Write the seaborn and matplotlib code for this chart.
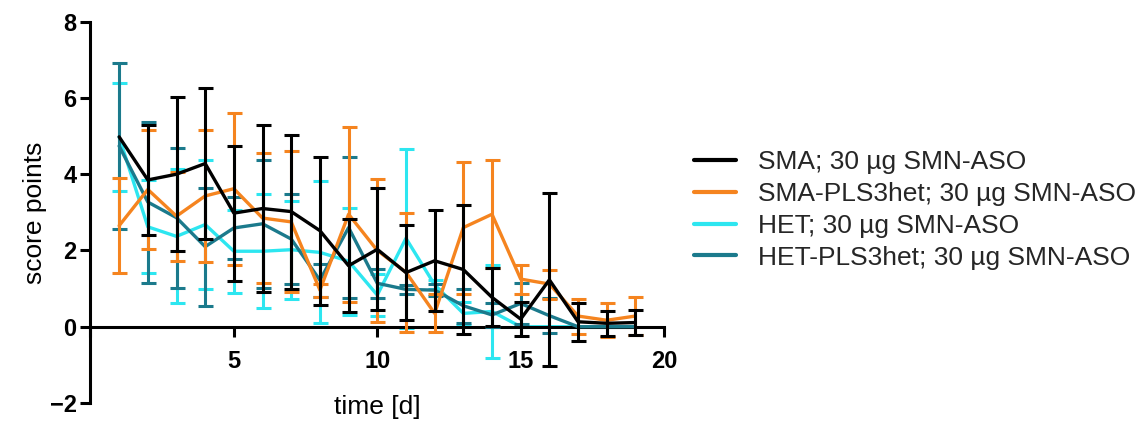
import numpy as np
import pandas as pd
import matplotlib
matplotlib.use("Agg")
import matplotlib.pyplot as plt
from matplotlib.lines import Line2D
import seaborn as sns

# Daily motor score (mean and SD) per group
days = list(range(1, 20))

sma_mean = [4.98, 3.85, 4.0, 4.28, 2.98, 3.1, 3.02, 2.52, 1.6, 2.03, 1.42, 1.73, 1.5, 0.77, 0.2, 1.23, 0.13, 0.09, 0.11]
sma_sd = [0, 1.45, 2.02, 1.97, 1.77, 2.2, 2.02, 1.94, 1.22, 1.6, 1.24, 1.33, 1.7, 0.76, 0.44, 2.27, 0.5, 0.33, 0.33]

sma_pls_mean = [2.65, 3.6, 2.9, 3.43, 3.62, 2.85, 2.75, 0.96, 2.95, 2.0, 1.43, 0.35, 2.6, 2.95, 1.25, 1.12, 0.28, 0.17, 0.28]
sma_pls_sd = [1.25, 1.57, 1.17, 1.73, 1.99, 1.7, 1.85, 0.17, 2.3, 1.88, 1.56, 0.5, 1.73, 1.42, 0.38, 0.38, 0.46, 0.44, 0.5]

het_mean = [4.98, 2.62, 2.37, 2.68, 1.98, 1.98, 2.02, 1.95, 1.72, 0.83, 2.32, 1.1, 0.35, 0.4, 0, 0, 0, 0, 0]
het_sd = [1.42, 1.22, 1.76, 1.68, 1.09, 1.5, 1.29, 1.86, 1.4, 0.55, 2.35, 0.12, 0.3, 1.23, 0, 0, 0, 0, 0]

het_pls_mean = [4.74, 3.27, 2.86, 2.1, 2.59, 2.7, 2.3, 1.22, 2.6, 1.14, 0.98, 0.96, 0.55, 0.31, 0.61, 0.29, 0, 0, 0]
het_pls_sd = [2.17, 2.11, 1.84, 1.55, 0.81, 1.68, 1.17, 0.43, 1.85, 0.38, 0.12, 0.15, 0.45, 0.32, 0.53, 0.46, 0, 0, 0]

groups = ["SMA; 30 µg SMN-ASO", "SMA-PLS3het; 30 µg SMN-ASO",
          "HET; 30 µg SMN-ASO", "HET-PLS3het; 30 µg SMN-ASO"]
colors = ["#000000", "#F5841F", "#2DE6F0", "#1B7A8C"]

means = [sma_mean, sma_pls_mean, het_mean, het_pls_mean]
sds = [sma_sd, sma_pls_sd, het_sd, het_pls_sd]

frames = []
for g, m, s in zip(groups, means, sds):
    frames.append(pd.DataFrame({"day": days, "score": m, "sd": s, "group": g}))
df = pd.concat(frames, ignore_index=True)

sns.set_theme(style="ticks")
plt.rcParams["font.family"] = ["Liberation Sans", "DejaVu Sans"]

fig = plt.figure(figsize=(11.45, 4.23), dpi=100)
ax = fig.add_axes([0.079, 0.0473, 0.501, 0.9014])

palette = dict(zip(groups, colors))
draw_order = [groups[2], groups[3], groups[1], groups[0]]

for i, g in enumerate(draw_order):
    sub = df[df["group"] == g]
    has_err = sub["sd"] > 0
    ax.errorbar(sub["day"][has_err], sub["score"][has_err], yerr=sub["sd"][has_err],
                fmt="none", ecolor=palette[g], elinewidth=2.2, capsize=5.4,
                capthick=2.2, zorder=2 + i)
    sns.lineplot(data=sub, x="day", y="score", color=palette[g], linewidth=2.4,
                 errorbar=None, ax=ax, legend=False, zorder=2 + i)

ax.set_xlim(0, 20)
ax.set_ylim(-2, 8)
ax.set_xticks([0, 5, 10, 15, 20])
ax.set_xticklabels(["", "5", "10", "15", "20"])
ax.set_yticks([-2, 0, 2, 4, 6, 8])

for side in ["top", "right"]:
    ax.spines[side].set_visible(False)
ax.spines["bottom"].set_position(("data", 0))
for side in ["left", "bottom"]:
    ax.spines[side].set_linewidth(2.2)
    ax.spines[side].set_color("black")

ax.tick_params(axis="both", direction="out", length=7, width=2.2, colors="black",
               labelsize=17)
ax.tick_params(axis="x", pad=10)
ax.tick_params(axis="y", pad=3)
for lab in ax.get_xticklabels() + ax.get_yticklabels():
    lab.set_fontweight("bold")

ax.set_xlabel("time [d]", fontsize=19, color="black")
ax.xaxis.set_label_coords(0.5, 0.022)
ax.xaxis.label.set_verticalalignment("top")
ax.set_ylabel("score points", fontsize=19, color="black", labelpad=2)

handles = [Line2D([0], [0], color=c, linewidth=3) for c in colors]
ax.legend(handles, groups, loc="center left", bbox_to_anchor=(0.606, 0.504),
          bbox_transform=fig.transFigure, frameon=False, fontsize=19,
          borderpad=0, borderaxespad=0, handlelength=1.58, handletextpad=0.86,
          labelspacing=0.3)

fig.savefig("out.png", dpi=100, facecolor="white")
